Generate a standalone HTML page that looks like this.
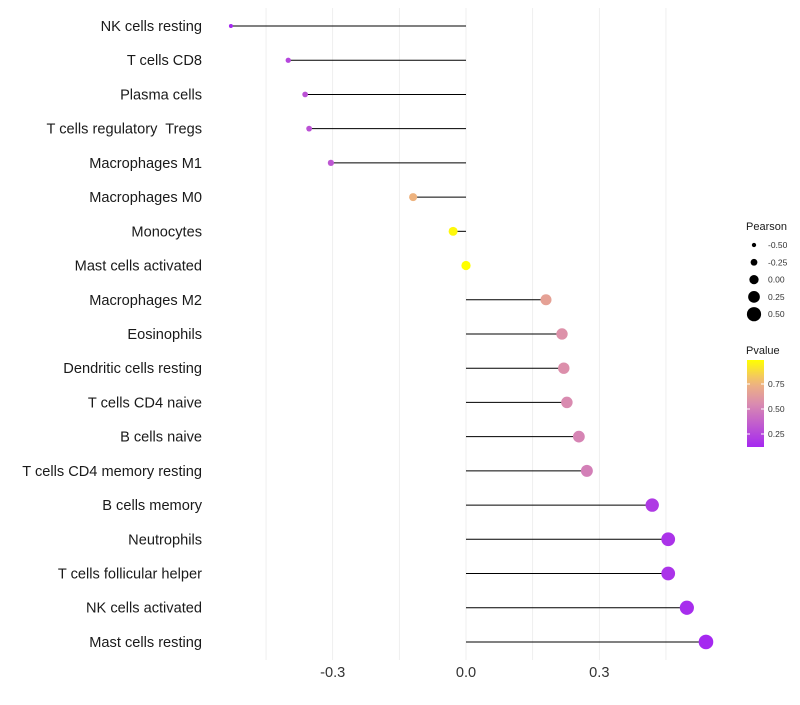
<!DOCTYPE html>
<html><head><meta charset="utf-8"><style>
body{margin:0;background:#fff;font-family:"Liberation Sans",sans-serif}
text{white-space:pre}
</style></head><body>
<svg id="chart" width="800" height="700" xmlns="http://www.w3.org/2000/svg">
<g id="grid"></g><g id="marks"></g><g id="ylabels"></g><g id="xlabels"></g><g id="legend"></g>
</svg>
<script>
const categories=["NK cells resting","T cells CD8","Plasma cells","T cells regulatory  Tregs","Macrophages M1","Macrophages M0","Monocytes","Mast cells activated","Macrophages M2","Eosinophils","Dendritic cells resting","T cells CD4 naive","B cells naive","T cells CD4 memory resting","B cells memory","Neutrophils","T cells follicular helper","NK cells activated","Mast cells resting"];
const pearson=[-0.529,-0.40,-0.362,-0.353,-0.304,-0.119,-0.029,0.0,0.18,0.216,0.22,0.227,0.254,0.272,0.419,0.455,0.455,0.497,0.54];
const pvalues=[0.12,0.25,0.3,0.3,0.32,0.75,0.97,1.0,0.66,0.58,0.57,0.55,0.52,0.5,0.2,0.17,0.17,0.14,0.12];
const xTicks=[-0.3,0.0,0.3];
const xTickLabels=["-0.3","0.0","0.3"];
const sizeLegend=[-0.5,-0.25,0,0.25,0.5];
const sizeLegendLabels=["-0.50","-0.25","0.00","0.25","0.50"];
const pLegend=[0.25,0.5,0.75];
const pLegendLabels=["0.25","0.50","0.75"];

const NS="http://www.w3.org/2000/svg";
const x=v=>466+v*444.4;
const y=i=>26+i*34.22;
const rad=v=>2+(v+0.53)/1.07*5.3;
function mk(t,a,p){const e=document.createElementNS(NS,t);for(const k in a)e.setAttribute(k,a[k]);p.appendChild(e);return e;}
const stops=[[0,[165,40,240]],[0.5,[218,140,175]],[0.75,[240,184,122]],[1,[255,255,0]]];
function col(p){const t=Math.max(0,Math.min(1,(p-0.12)/(0.99-0.12)));for(let i=1;i<stops.length;i++){if(t<=stops[i][0]){const a=stops[i-1],b=stops[i],f=(t-a[0])/(b[0]-a[0]);return `rgb(${a[1].map((c,j)=>Math.round(c+(b[1][j]-c)*f)).join(',')})`;}}return 'rgb(255,255,0)';}
const grid=document.getElementById('grid'),marks=document.getElementById('marks'),yl=document.getElementById('ylabels'),xl=document.getElementById('xlabels'),lg=document.getElementById('legend');
[-0.45,-0.3,-0.15,0,0.15,0.3,0.45].forEach(v=>{const l=mk('line',{x1:x(v),x2:x(v),y1:8,y2:660,stroke:'#ebebeb','stroke-width':0.8},grid);

});
categories.forEach((c,i)=>{
const s=mk('line',{x1:x(0),x2:x(pearson[i]),y1:y(i),y2:y(i),stroke:'#000','stroke-width':1},marks);


const d=mk('circle',{cx:x(pearson[i]),cy:y(i),r:rad(pearson[i]),fill:col(pvalues[i])},marks);


const t=mk('text',{x:202,y:y(i)+5,'text-anchor':'end','font-size':14.6,fill:'#1a1a1a'},yl);t.textContent=c;


});
xTicks.forEach((v,i)=>{const t=mk('text',{x:x(v),y:677,'text-anchor':'middle','font-size':14.6,fill:'#333'},xl);t.textContent=xTickLabels[i];

});
let t=mk('text',{x:746,y:230,'font-size':11,fill:'#1a1a1a'},lg);t.textContent='Pearson';


sizeLegend.forEach((v,i)=>{const cy=245+i*17.3;const c=mk('circle',{cx:754,cy:cy,r:rad(v),fill:'#000'},lg);


const tt=mk('text',{x:768,y:cy+3,'font-size':8.5,fill:'#333'},lg);tt.textContent=sizeLegendLabels[i];

});
t=mk('text',{x:746,y:354,'font-size':11,fill:'#1a1a1a'},lg);t.textContent='Pvalue';


const defs=mk('defs',{},lg);const g=mk('linearGradient',{id:'pg',x1:0,y1:1,x2:0,y2:0},defs);
for(let k=0;k<=10;k++){mk('stop',{offset:k/10,'stop-color':col(0.12+k/10*0.87)},g);}
const bar=mk('rect',{x:747,y:360,width:17,height:87,fill:'url(#pg)'},lg);


pLegend.forEach((v,i)=>{const yy=447-(v-0.12)/0.87*87;
mk('line',{x1:747,x2:750,y1:yy,y2:yy,stroke:'#fff'},lg);mk('line',{x1:761,x2:764,y1:yy,y2:yy,stroke:'#fff'},lg);
const tt=mk('text',{x:768,y:yy+3,'font-size':8.5,fill:'#333'},lg);tt.textContent=pLegendLabels[i];

});
</script>
</body></html>
